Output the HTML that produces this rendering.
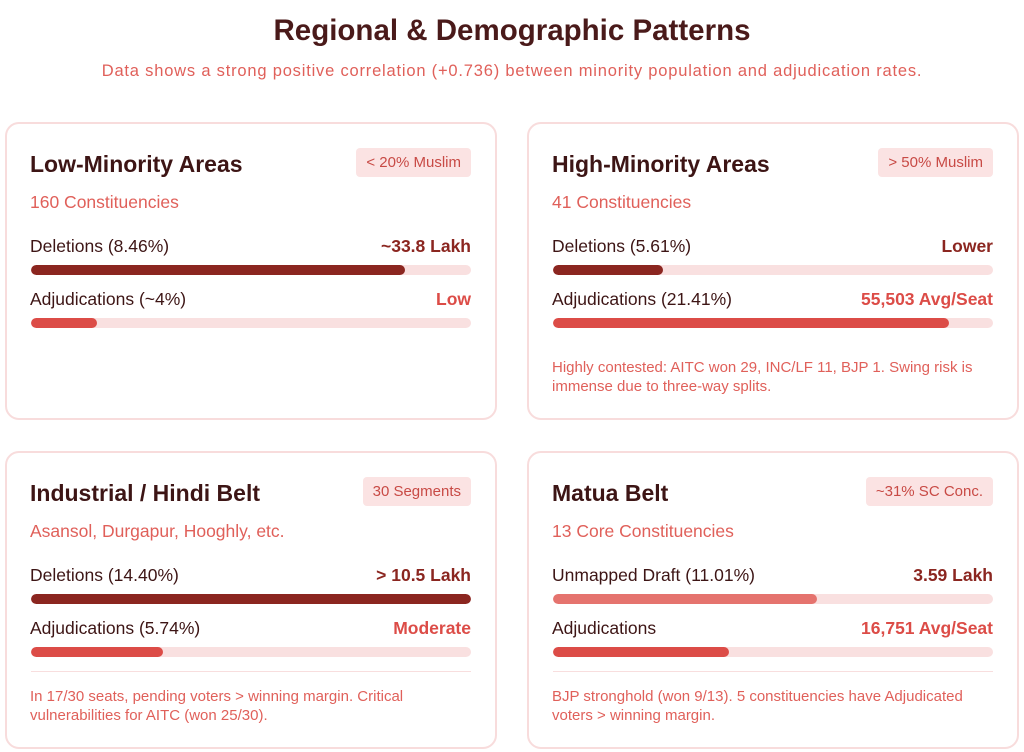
<!DOCTYPE html>
<html><head><meta charset="utf-8"><style>
*{box-sizing:border-box;margin:0;padding:0}
body{width:1024px;height:752px;background:#fff;font-family:"Liberation Sans",sans-serif;position:relative;overflow:hidden}
h1{position:absolute;top:14px;left:0;width:1024px;text-align:center;font-size:29.5px;font-weight:bold;color:#4a1a1a}
.sub{position:absolute;top:62px;left:0;width:1024px;text-align:center;font-size:16.5px;letter-spacing:0.8px;color:#e0605a}
.card{position:absolute;width:492px;height:298px;border:2px solid #f8dcdc;border-radius:14px;background:#fff}
.t{position:absolute;left:23px;top:27px;font-size:23px;font-weight:bold;color:#3d1515}
.badge{position:absolute;right:24px;top:24px;height:29px;line-height:29px;padding:0 10px;background:#fbe3e3;border-radius:4px;font-size:15px;color:#c84a45}
.s{position:absolute;left:23px;top:68px;font-size:17.5px;color:#e0605a}
.row{position:absolute;left:23px;right:24px;font-size:17.5px;color:#3d1515}
.row b{position:absolute;right:0;top:0;color:#8b2620}
.row b.r{color:#dc4c47}
.track{position:absolute;left:24px;right:24px;height:10px;border-radius:5px;background:#f9e0e0;overflow:hidden}
.fill{height:100%;border-radius:5px}
.dk{background:#8b2620}.rd{background:#dc4c47}.lt{background:#e5736e}
.hr{position:absolute;left:24px;right:24px;height:1px;background:#f8dede}
.note{position:absolute;left:23px;right:20px;font-size:15px;line-height:19px;color:#e0605a}
</style></head><body>
<h1>Regional &amp; Demographic Patterns</h1>
<div class="sub">Data shows a strong positive correlation (+0.736) between minority population and adjudication rates.</div>

<div class="card" style="left:5px;top:122px">
<div class="t">Low-Minority Areas</div><div class="badge">&lt; 20% Muslim</div>
<div class="s">160 Constituencies</div>
<div class="row" style="top:112px">Deletions (8.46%)<b>~33.8 Lakh</b></div>
<div class="track" style="top:141px"><div class="fill dk" style="width:85%"></div></div>
<div class="row" style="top:165px">Adjudications (~4%)<b class="r">Low</b></div>
<div class="track" style="top:194px"><div class="fill rd" style="width:15%"></div></div>
</div>

<div class="card" style="left:527px;top:122px">
<div class="t">High-Minority Areas</div><div class="badge">&gt; 50% Muslim</div>
<div class="s">41 Constituencies</div>
<div class="row" style="top:112px">Deletions (5.61%)<b>Lower</b></div>
<div class="track" style="top:141px"><div class="fill dk" style="width:25%"></div></div>
<div class="row" style="top:165px">Adjudications (21.41%)<b class="r">55,503 Avg/Seat</b></div>
<div class="track" style="top:194px"><div class="fill rd" style="width:90%"></div></div>
<div class="note" style="top:234px">Highly contested: AITC won 29, INC/LF 11, BJP 1. Swing risk is immense due to three-way splits.</div>
</div>

<div class="card" style="left:5px;top:451px">
<div class="t">Industrial / Hindi Belt</div><div class="badge">30 Segments</div>
<div class="s">Asansol, Durgapur, Hooghly, etc.</div>
<div class="row" style="top:112px">Deletions (14.40%)<b>&gt; 10.5 Lakh</b></div>
<div class="track" style="top:141px"><div class="fill dk" style="width:100%"></div></div>
<div class="row" style="top:165px">Adjudications (5.74%)<b class="r">Moderate</b></div>
<div class="track" style="top:194px"><div class="fill rd" style="width:30%"></div></div>
<div class="hr" style="top:218px"></div>
<div class="note" style="top:234px">In 17/30 seats, pending voters &gt; winning margin. Critical vulnerabilities for AITC (won 25/30).</div>
</div>

<div class="card" style="left:527px;top:451px">
<div class="t">Matua Belt</div><div class="badge">~31% SC Conc.</div>
<div class="s">13 Core Constituencies</div>
<div class="row" style="top:112px">Unmapped Draft (11.01%)<b>3.59 Lakh</b></div>
<div class="track" style="top:141px"><div class="fill lt" style="width:60%"></div></div>
<div class="row" style="top:165px">Adjudications<b class="r">16,751 Avg/Seat</b></div>
<div class="track" style="top:194px"><div class="fill rd" style="width:40%"></div></div>
<div class="hr" style="top:218px"></div>
<div class="note" style="top:234px">BJP stronghold (won 9/13). 5 constituencies have Adjudicated voters &gt; winning margin.</div>
</div>
</body></html>
